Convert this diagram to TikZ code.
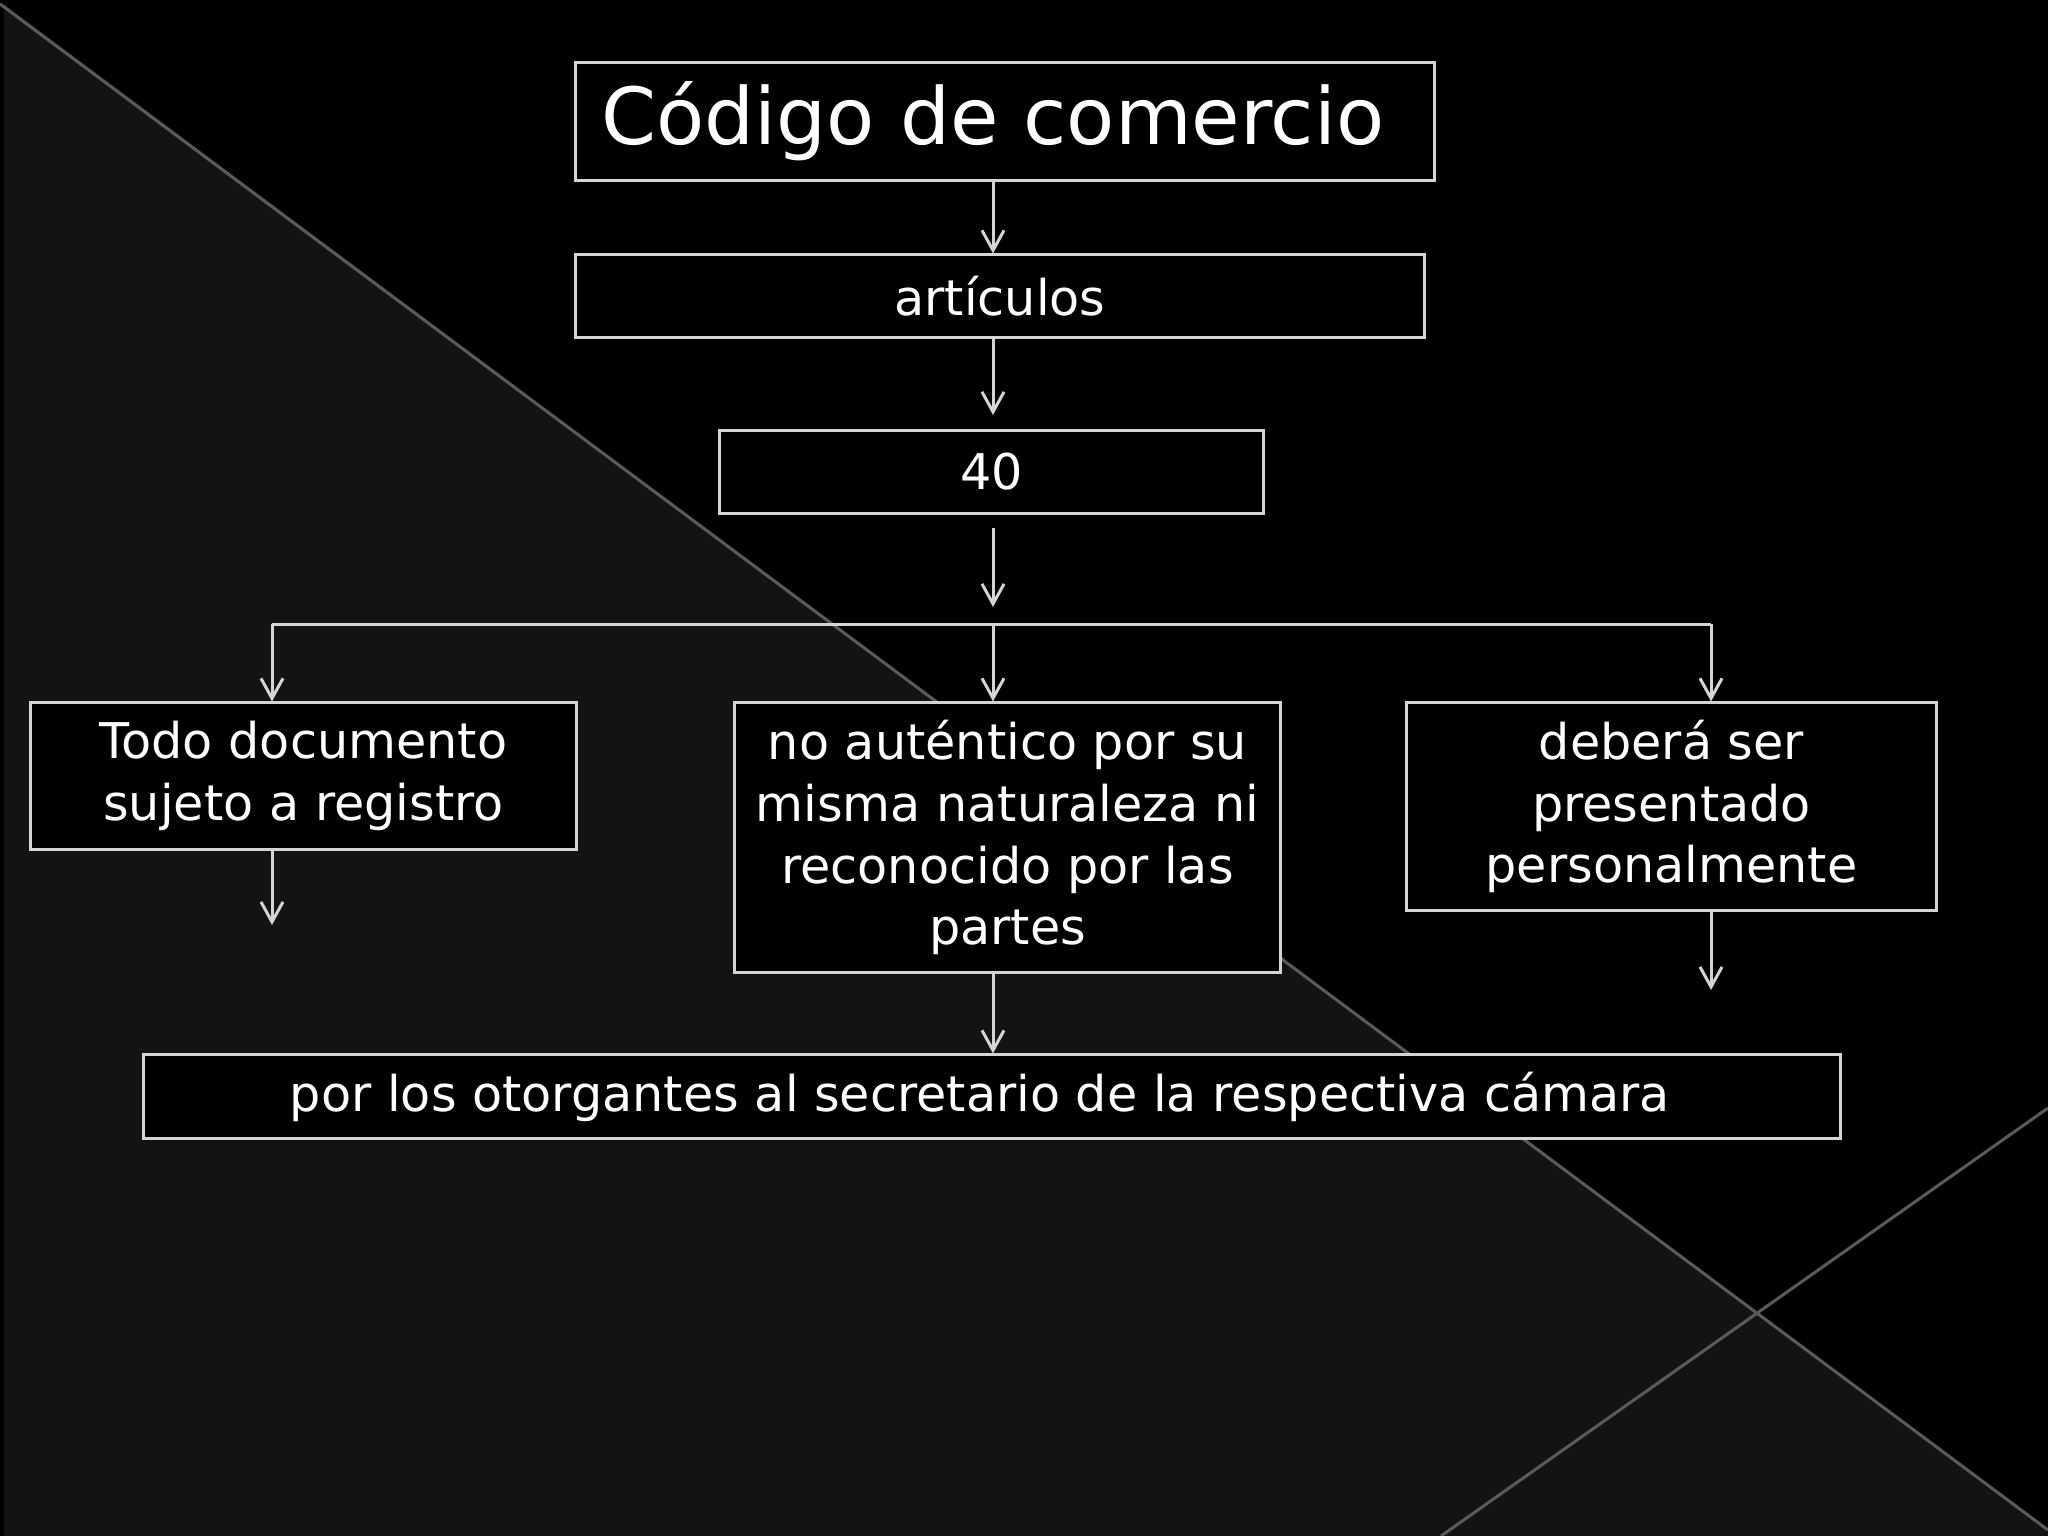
\documentclass[tikz,border=0pt]{standalone}
\usepackage{fontspec}
\setmainfont{DejaVu Sans}
\usetikzlibrary{arrows.meta}
\definecolor{bgdark}{HTML}{131313}
\definecolor{diag}{HTML}{5A5A5A}
\definecolor{boxc}{HTML}{D4D4D4}
\begin{document}
\begin{tikzpicture}[x=0.01cm,y=-0.01cm,
  box/.style={draw=boxc,line width=0.03cm,fill=black,text=white,inner sep=0pt,align=center,
    font=\fontsize{14}{17.6}\selectfont},
  conn/.style={draw=boxc,line width=0.03cm},
  arr/.style={conn,-{Straight Barb[length=0.2cm,width=0.22cm,line width=0.03cm]}}]
\useasboundingbox (0,0) rectangle (2048,1536);
% background
\fill[black] (0,0) rectangle (2048,1536);
\fill[bgdark] (4,4) -- (2048,1530) -- (2048,1536) -- (4,1536) -- cycle;
\draw[diag,line width=0.03cm] (0,4) -- (2048,1530);
\draw[diag,line width=0.03cm] (1441,1536) -- (2048,1108);
% nodes
\node[box,minimum width=8.58cm,minimum height=1.17cm,font=\fontsize{22.4}{26}\selectfont] (title) at (1005,121.5) {Código de comercio\hspace*{0.24cm}};
\node[box,minimum width=8.48cm,minimum height=0.82cm] (art) at (1000,296) {artículos};
\node[box,minimum width=5.43cm,minimum height=0.82cm] (n40) at (991.5,472) {40};
\node[box,minimum width=5.45cm,minimum height=1.46cm] (left) at (303.5,776) {Todo documento\\sujeto a registro};
\node[box,minimum width=5.45cm,minimum height=2.69cm] (mid) at (1007.5,837.5) {no auténtico por su\\misma naturaleza ni\\reconocido por las\\partes};
\node[box,minimum width=5.29cm,minimum height=2.07cm] (right) at (1671.5,806.5) {deberá ser\\presentado\\personalmente};
\node[box,minimum width=16.96cm,minimum height=0.83cm] (bottom) at (992,1096.5) {por los otorgantes al secretario de la respectiva cámara\hspace*{0.24cm}};
% coordinates
\coordinate (spine) at (993,0);
\coordinate (a2end) at (993,415);
\coordinate (a3s) at (993,528);
\coordinate (a3e) at (993,607);
\coordinate (bl) at (272,624);
\coordinate (br) at (1711,624);
\coordinate (ldown) at (272,925);
\coordinate (rdown) at (1711,990);
% connectors
\draw[arr] (title.south -| spine) -- (art.north -| spine);
\draw[arr] (art.south -| spine) -- (a2end);
\draw[arr] (a3s) -- (a3e);
\draw[conn] (bl) -- (br);
\draw[arr] (bl) -- (left.north -| bl);
\draw[arr] (spine |- bl) -- (mid.north -| spine);
\draw[arr] (br) -- (right.north -| br);
\draw[arr] (left.south -| bl) -- (ldown);
\draw[arr] (right.south -| br) -- (rdown);
\draw[arr] (mid.south -| spine) -- (bottom.north -| spine);
\end{tikzpicture}
\end{document}
